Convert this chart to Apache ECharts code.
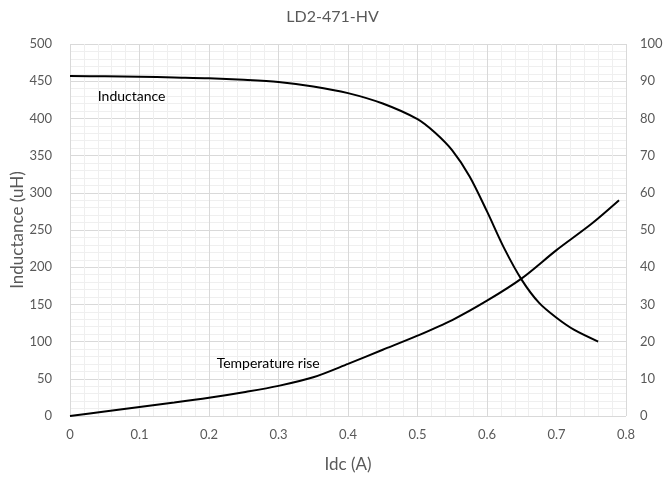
<!DOCTYPE html>
<html>
<head>
<meta charset="utf-8">
<script src="https://cdn.jsdelivr.net/npm/echarts@6/dist/echarts.min.js"></script>
<style>
  html, body { margin: 0; padding: 0; background: #fff; }
  #chart { width: 665px; height: 480px; }
</style>
</head>
<body>
<div id="chart"></div>
<script>
// Inductance (uH) vs Idc (A), left axis
var inductance = [
    [0, 457], [0.05, 456.5], [0.1, 456], [0.15, 455], [0.2, 454], [0.25, 452],
    [0.3, 449], [0.35, 443], [0.4, 434], [0.45, 420], [0.5, 399], [0.525, 381],
    [0.55, 357], [0.575, 322], [0.6, 275], [0.625, 225], [0.65, 183],
    [0.675, 152], [0.7, 132], [0.725, 116], [0.76, 100]
];
// Temperature rise vs Idc (A), right axis
var tempRise = [
    [0, 0], [0.05, 1.2], [0.1, 2.4], [0.15, 3.6], [0.2, 4.9], [0.25, 6.4],
    [0.3, 8.1], [0.35, 10.4], [0.4, 14], [0.45, 17.8], [0.5, 21.6],
    [0.55, 25.8], [0.6, 31], [0.65, 37], [0.7, 44.6], [0.75, 51.6], [0.79, 58]
];

var font = 'Lato';
var grey = '#595959';

var dom = document.getElementById('chart');
var myChart = echarts.init(dom);
var option = {
    animation: false,
    backgroundColor: '#fff',
    title: {
        text: 'LD2-471-HV',
        left: 'center',
        top: 4,
        textStyle: { color: grey, fontSize: 16, fontWeight: 'normal', fontFamily: font }
    },
    grid: { left: 70, right: 39, top: 44, bottom: 64, outerBoundsMode: 'none' },
    xAxis: {
        type: 'value',
        min: 0,
        max: 0.8,
        interval: 0.1,
        name: 'Idc (A)',
        nameLocation: 'middle',
        nameGap: 40,
        nameMoveOverlap: false,
        nameTextStyle: { color: grey, fontSize: 17, fontFamily: font },
        axisLine: { show: false },
        axisTick: { show: false },
        axisLabel: { color: grey, fontSize: 13, fontFamily: font, margin: 12 },
        splitLine: { show: true, lineStyle: { color: '#d9d9d9', width: 1 } },
        minorTick: { show: false, splitNumber: 5 },
        minorSplitLine: { show: true, lineStyle: { color: '#efefef', width: 1 } }
    },
    yAxis: [{
        type: 'value',
        min: 0,
        max: 500,
        interval: 50,
        name: 'Inductance (uH)',
        nameLocation: 'middle',
        nameGap: 44,
        nameMoveOverlap: false,
        nameTextStyle: { color: grey, fontSize: 17, fontFamily: font },
        axisLine: { show: false },
        axisTick: { show: false },
        axisLabel: { color: grey, fontSize: 13, fontFamily: font, margin: 18 },
        splitLine: { show: true, lineStyle: { color: '#d9d9d9', width: 1 } },
        minorTick: { show: false, splitNumber: 5 },
        minorSplitLine: { show: true, lineStyle: { color: '#efefef', width: 1 } }
    }, {
        type: 'value',
        min: 0,
        max: 100,
        interval: 10,
        position: 'right',
        axisLine: { show: false },
        axisTick: { show: false },
        axisLabel: { color: grey, fontSize: 13, fontFamily: font, margin: 14 },
        splitLine: { show: false }
    }],
    series: [{
        name: 'Inductance',
        type: 'line',
        yAxisIndex: 0,
        data: inductance,
        smooth: 0.3,
        showSymbol: false,
        lineStyle: { color: '#000', width: 2 },
        markPoint: {
            symbol: 'circle',
            symbolSize: 0,
            label: { show: true, position: 'right', distance: 0, color: '#000', fontSize: 14, fontFamily: font, formatter: '{b}' },
            data: [{ name: 'Inductance', coord: [0.04, 430] }]
        }
    }, {
        name: 'Temperature rise',
        type: 'line',
        yAxisIndex: 1,
        data: tempRise,
        smooth: 0.3,
        showSymbol: false,
        lineStyle: { color: '#000', width: 2 },
        markPoint: {
            symbol: 'circle',
            symbolSize: 0,
            label: { show: true, position: 'right', distance: 0, color: '#000', fontSize: 14, fontFamily: font, formatter: '{b}' },
            data: [{ name: 'Temperature rise', coord: [0.211, 14.2] }]
        }
    }]
};
myChart.setOption(option);
</script>
</body>
</html>
